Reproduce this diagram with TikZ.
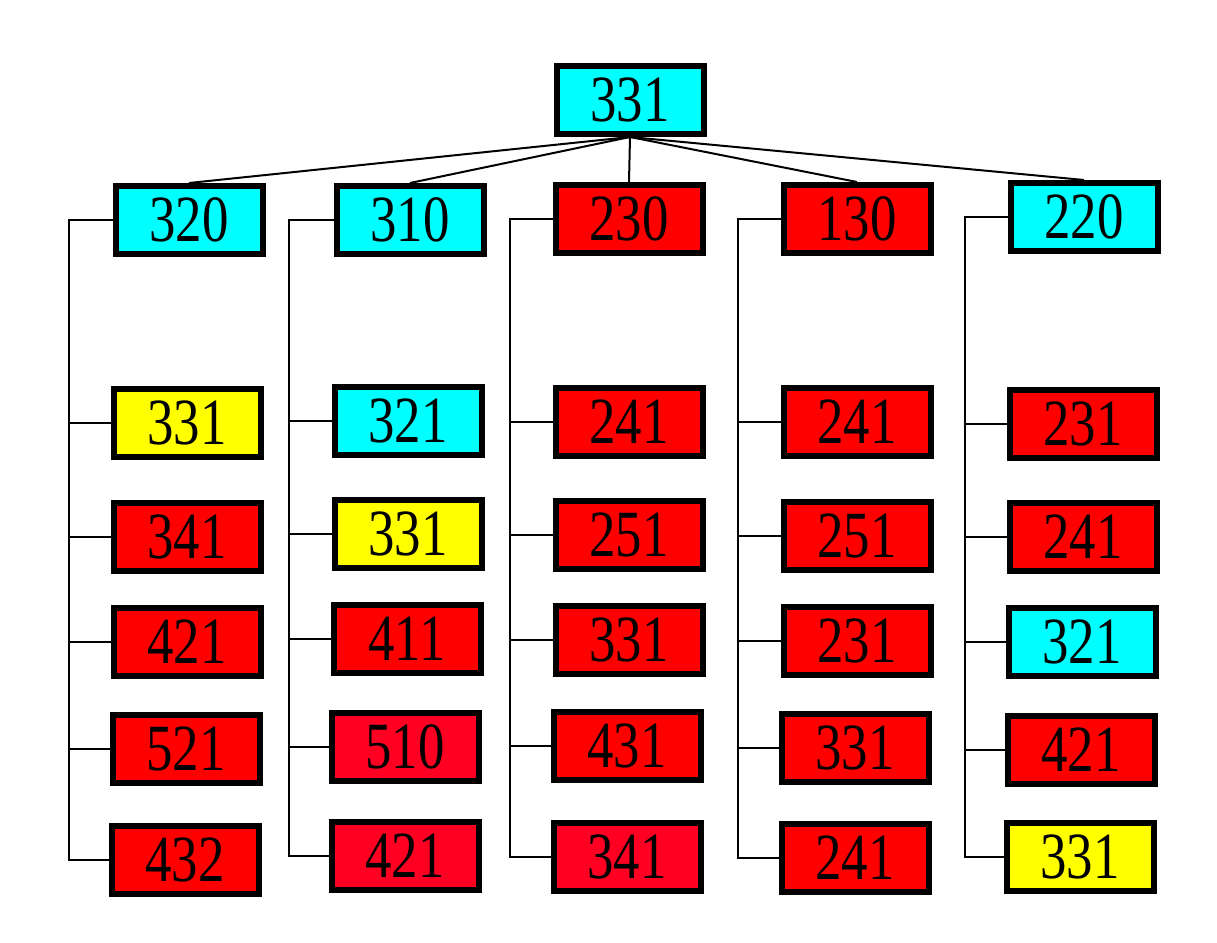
\documentclass[tikz,border=0pt]{standalone}
\usepackage{fontspec}
\setmainfont{Liberation Serif}
\usepackage{graphicx}
\definecolor{cy}{HTML}{00FFFF}
\definecolor{rd}{HTML}{FF0000}
\definecolor{pr}{HTML}{FF0022}
\definecolor{yl}{HTML}{FFFF00}
\newcommand\numtxt[1]{\scalebox{0.8}[1]{\fontsize{66}{66}\selectfont #1}}
\tikzset{
  box/.style={draw=black, line width=6pt, minimum width=147pt, minimum height=68pt, inner sep=0pt},
  cbox/.style={box, fill=cy},
  rbox/.style={box, fill=rd},
  pbox/.style={box, fill=pr},
  ybox/.style={box, fill=yl},
  link/.style={line width=2pt, black}
}
\begin{document}
\begin{tikzpicture}[x=1pt,y=-1pt]
\useasboundingbox (0,0) rectangle (1217,942);
% root
\node[cbox] (top) at (630,100) {\numtxt{331}};
% level 2
\node[cbox] (a) at (189,220) {\numtxt{320}};
\node[cbox] (b) at (410,220) {\numtxt{310}};
\node[rbox] (c) at (629,219) {\numtxt{230}};
\node[rbox] (d) at (857,219) {\numtxt{130}};
\node[cbox] (e) at (1084,217) {\numtxt{220}};
% column 1
\node[ybox] (a1) at (187,423) {\numtxt{331}};
\node[rbox] (a2) at (187,537) {\numtxt{341}};
\node[rbox] (a3) at (187,642) {\numtxt{421}};
\node[rbox] (a4) at (186,749) {\numtxt{521}};
\node[rbox] (a5) at (185,860) {\numtxt{432}};
% column 2
\node[cbox] (b1) at (408,421) {\numtxt{321}};
\node[ybox] (b2) at (408,534) {\numtxt{331}};
\node[rbox] (b3) at (407,639) {\numtxt{411}};
\node[pbox] (b4) at (405,747) {\numtxt{510}};
\node[pbox] (b5) at (405,856) {\numtxt{421}};
% column 3
\node[rbox] (c1) at (629,422) {\numtxt{241}};
\node[rbox] (c2) at (629,535) {\numtxt{251}};
\node[rbox] (c3) at (629,640) {\numtxt{331}};
\node[rbox] (c4) at (627,746) {\numtxt{431}};
\node[pbox] (c5) at (627,857) {\numtxt{341}};
% column 4
\node[rbox] (d1) at (857,422) {\numtxt{241}};
\node[rbox] (d2) at (857,536) {\numtxt{251}};
\node[rbox] (d3) at (857,641) {\numtxt{231}};
\node[rbox] (d4) at (855,748) {\numtxt{331}};
\node[rbox] (d5) at (855,858) {\numtxt{241}};
% column 5
\node[rbox] (e1) at (1083,424) {\numtxt{231}};
\node[rbox] (e2) at (1083,537) {\numtxt{241}};
\node[cbox] (e3) at (1082,642) {\numtxt{321}};
\node[rbox] (e4) at (1081,750) {\numtxt{421}};
\node[ybox] (e5) at (1080,857) {\numtxt{331}};
% root links
\foreach \n in {a,b,c,d,e} \draw[link] (top.south) -- (\n.north);
% column trunks
\coordinate (va) at (69,860);
\coordinate (vb) at (289,856);
\coordinate (vc) at (510,857);
\coordinate (vd) at (738,858);
\coordinate (ve) at (965,857);
\draw[link] (a.west) -| (va) -- (a5.west);
\draw[link] (b.west) -| (vb) -- (b5.west);
\draw[link] (c.west) -| (vc) -- (c5.west);
\draw[link] (d.west) -| (vd) -- (d5.west);
\draw[link] (e.west) -| (ve) -- (e5.west);
\foreach \n in {a1,a2,a3,a4} \draw[link] (\n.west) -- (\n.west -| va);
\foreach \n in {b1,b2,b3,b4} \draw[link] (\n.west) -- (\n.west -| vb);
\foreach \n in {c1,c2,c3,c4} \draw[link] (\n.west) -- (\n.west -| vc);
\foreach \n in {d1,d2,d3,d4} \draw[link] (\n.west) -- (\n.west -| vd);
\foreach \n in {e1,e2,e3,e4} \draw[link] (\n.west) -- (\n.west -| ve);
\end{tikzpicture}
\end{document}
